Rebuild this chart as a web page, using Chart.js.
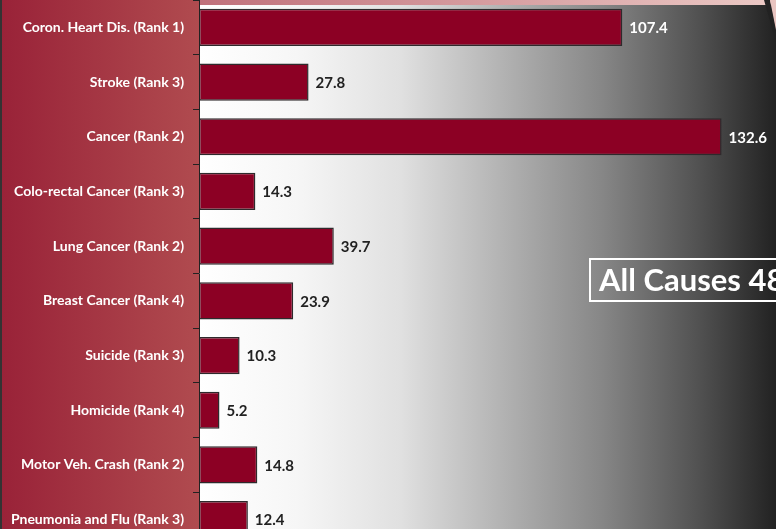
<!DOCTYPE html>
<html>
<head>
<meta charset="utf-8">
<script src="https://cdn.jsdelivr.net/npm/chart.js@4"></script>
<style>
  html, body { margin: 0; padding: 0; overflow: hidden; background: #fff; }
  canvas { display: block; }
</style>
</head>
<body>
<canvas id="chart" width="776" height="547"></canvas>
<script>
// categories and rates (per 100,000)
const causes = [
    'Coron. Heart Dis. (Rank 1)',
    'Stroke (Rank 3)',
    'Cancer (Rank 2)',
    'Colo-rectal Cancer (Rank 3)',
    'Lung Cancer (Rank 2)',
    'Breast Cancer (Rank 4)',
    'Suicide (Rank 3)',
    'Homicide (Rank 4)',
    'Motor Veh. Crash (Rank 2)',
    'Pneumonia and Flu (Rank 3)'
];
// bar lengths as drawn in the picture
const rates = [107.4, 27.8, 132.6, 14.3, 34.2, 23.9, 10.3, 5.2, 14.8, 12.4];
// the printed value next to each bar (lung label doesn't match its bar)
const rateLabels = ['107.4', '27.8', '132.6', '14.3', '39.7', '23.9', '10.3', '5.2', '14.8', '12.4'];
const allCausesText = 'All Causes 487.5';

const FONT = 'Lato, "Open Sans", sans-serif';

// backgrounds: red label panel, grey gradient plot, pink top strip
const backgroundPlugin = {
    id: 'backgrounds',
    beforeDraw(chart) {
        const ctx = chart.ctx;
        const area = chart.chartArea;
        const w = chart.width, h = chart.height;
        ctx.save();

        let g = ctx.createLinearGradient(0, 0, area.left, 0);
        g.addColorStop(0, '#992238');
        g.addColorStop(1, '#b04b4f');
        ctx.fillStyle = g;
        ctx.fillRect(0, 0, area.left, h);
        ctx.fillStyle = '#333';
        ctx.fillRect(0, 0, 2, h);

        g = ctx.createLinearGradient(area.left, 0, w, 0);
        g.addColorStop(0, '#ffffff');
        g.addColorStop(0.17, '#f6f6f6');
        g.addColorStop(0.35, '#e0e0e0');
        g.addColorStop(0.52, '#b4b4b4');
        g.addColorStop(0.7, '#868686');
        g.addColorStop(0.87, '#505050');
        g.addColorStop(1, '#222222');
        ctx.fillStyle = g;
        ctx.fillRect(area.left, 0, w - area.left, h);

        // top strip
        g = ctx.createLinearGradient(area.left, 0, w, 0);
        g.addColorStop(0, '#c0707a');
        g.addColorStop(1, '#eccac6');
        ctx.fillStyle = g;
        ctx.fillRect(area.left, 0, w - area.left, 5);
        ctx.fillStyle = '#222';
        ctx.beginPath();
        ctx.moveTo(764, 0);
        ctx.lineTo(770, 0);
        ctx.lineTo(776, 30);
        ctx.lineTo(776, 42);
        ctx.closePath();
        ctx.fill();
        ctx.fillStyle = '#e8c4c0';
        ctx.beginPath();
        ctx.moveTo(770, 0);
        ctx.lineTo(776, 0);
        ctx.lineTo(776, 30);
        ctx.closePath();
        ctx.fill();

        ctx.restore();
    },
    afterDatasetsDraw(chart) {
        const ctx = chart.ctx;
        const meta = chart.getDatasetMeta(0);
        ctx.save();
        ctx.font = 'bold 15px ' + FONT;
        ctx.textBaseline = 'middle';
        ctx.textAlign = 'left';
        meta.data.forEach((bar, i) => {
            ctx.fillStyle = bar.x > 560 ? '#ffffff' : '#222222';
            ctx.fillText(rateLabels[i], bar.x + 7, bar.y + 1);
        });
        // axis line
        ctx.strokeStyle = '#222';
        ctx.lineWidth = 1;
        ctx.beginPath();
        ctx.moveTo(chart.chartArea.left + 0.5, 0);
        ctx.lineTo(chart.chartArea.left + 0.5, chart.height);
        ctx.stroke();

        // all causes box
        ctx.strokeStyle = '#ffffff';
        ctx.lineWidth = 2;
        ctx.strokeRect(590, 259, 240, 42);
        ctx.fillStyle = '#ffffff';
        ctx.font = 'bold 31px ' + FONT;
        ctx.textBaseline = 'alphabetic';
        ctx.fillText(allCausesText, 599, 291);
        ctx.restore();
    }
};

new Chart(document.getElementById('chart'), {
    type: 'bar',
    data: {
        labels: causes,
        datasets: [{
            data: rates,
            backgroundColor: '#8c0024',
            borderColor: '#2e2a2c',
            borderWidth: 1.5,
            borderSkipped: false,
            barPercentage: 0.68,
            categoryPercentage: 1
        }]
    },
    options: {
        indexAxis: 'y',
        responsive: false,
        animation: false,
        layout: { padding: 0 },
        plugins: {
            legend: { display: false },
            tooltip: { enabled: false }
        },
        scales: {
            x: {
                display: false,
                min: 0,
                max: 146.4
            },
            y: {
                afterFit(scale) {
                    scale.width = 199;
                    scale.paddingTop = 0;
                    scale.paddingBottom = 0;
                },
                border: { display: false },
                grid: {
                    drawOnChartArea: false,
                    tickLength: 6,
                    color: '#222',
                    offset: true
                },
                ticks: {
                    color: '#ffffff',
                    padding: 9,
                    font: { family: FONT, size: 14, weight: 'bold' }
                }
            }
        }
    },
    plugins: [backgroundPlugin]
});
</script>
</body>
</html>
